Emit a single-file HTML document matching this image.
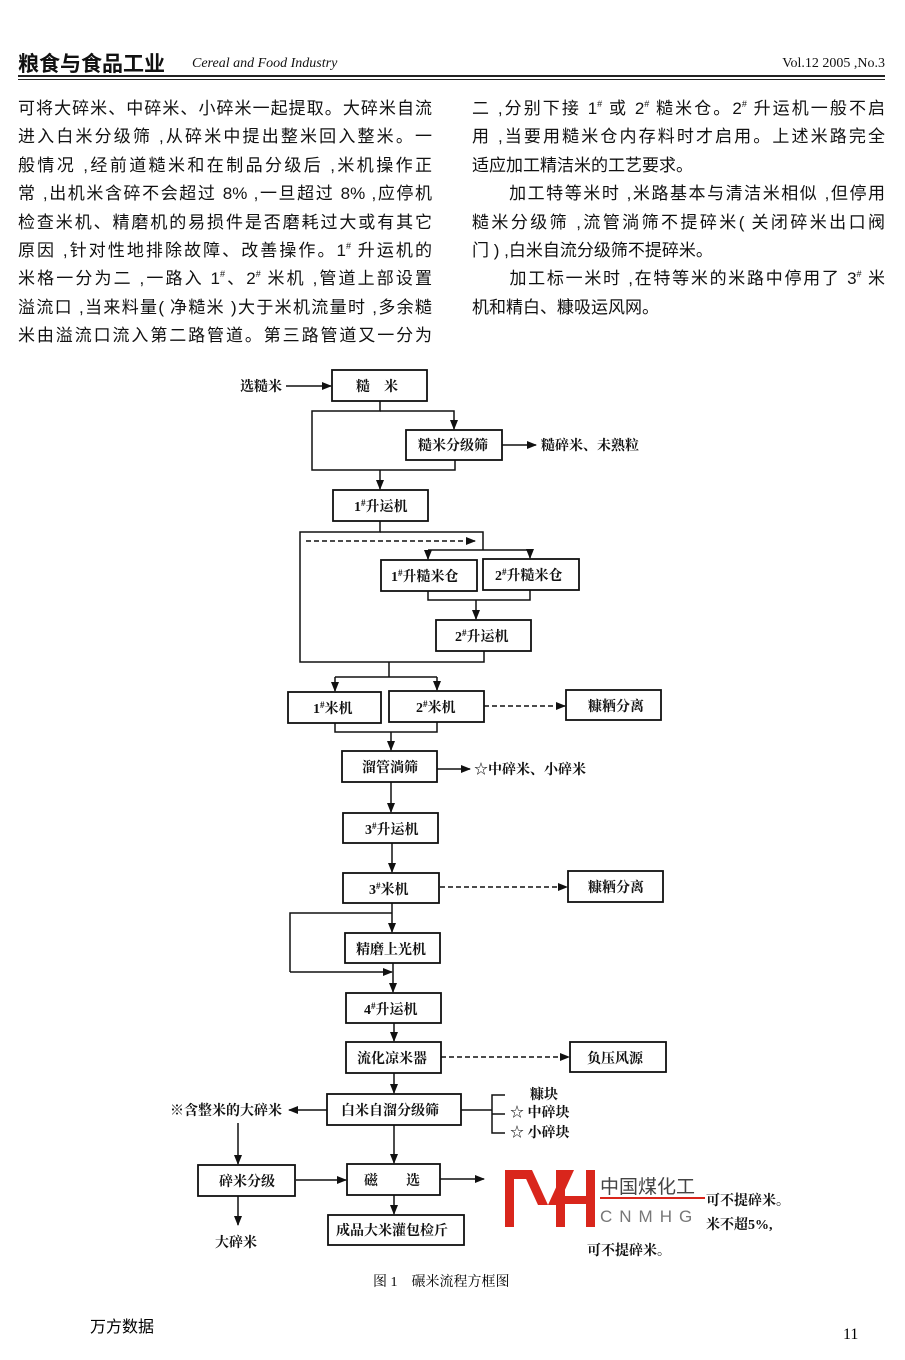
<!DOCTYPE html>
<html><head><meta charset="utf-8">
<style>
body{margin:0;background:#fff;}
#p{position:relative;width:905px;height:1360px;overflow:hidden;background:#fff;color:#111;font-family:"Liberation Sans","Noto Sans CJK SC",sans-serif;}
.col{position:absolute;font-size:17px;line-height:28.4px;}
.col div{text-align:justify;text-align-last:justify;white-space:nowrap;height:28.4px}
.col div.l{text-align-last:left}
sup{font-size:9px;vertical-align:7px;line-height:0}
</style></head><body><div id="p">
<div style="position:absolute;left:18px;top:48px;font-size:21px;font-weight:bold;">粮食与食品工业</div>
<div style="position:absolute;left:192px;top:56px;font-size:14px;font-style:italic;font-family:'Liberation Serif',serif;">Cereal and Food Industry</div>
<div style="position:absolute;right:20px;top:56px;font-size:14px;font-family:'Liberation Serif',serif;">Vol.12 2005 ,No.3</div>
<div style="position:absolute;left:18px;top:75px;width:867px;height:2px;background:#222"></div>
<div style="position:absolute;left:18px;top:78.5px;width:867px;height:1px;background:#222"></div>

<div class="col" style="left:18px;top:95px;width:414px;">
<div>可将大碎米、中碎米、小碎米一起提取。大碎米自流</div>
<div>进入白米分级筛 ,从碎米中提出整米回入整米。一</div>
<div>般情况 ,经前道糙米和在制品分级后 ,米机操作正</div>
<div>常 ,出机米含碎不会超过 8% ,一旦超过 8% ,应停机</div>
<div>检查米机、精磨机的易损件是否磨耗过大或有其它</div>
<div>原因 ,针对性地排除故障、改善操作。1<sup>#</sup> 升运机的</div>
<div>米格一分为二 ,一路入 1<sup>#</sup>、2<sup>#</sup> 米机 ,管道上部设置</div>
<div>溢流口 ,当来料量( 净糙米 )大于米机流量时 ,多余糙</div>
<div>米由溢流口流入第二路管道。第三路管道又一分为</div>
</div>
<div class="col" style="left:472px;top:95px;width:413px;">
<div>二 ,分别下接 1<sup>#</sup> 或 2<sup>#</sup> 糙米仓。2<sup>#</sup> 升运机一般不启</div>
<div>用 ,当要用糙米仓内存料时才启用。上述米路完全</div>
<div class="l">适应加工精洁米的工艺要求。</div>
<div>　　加工特等米时 ,米路基本与清洁米相似 ,但停用</div>
<div>糙米分级筛 ,流管淌筛不提碎米( 关闭碎米出口阀</div>
<div class="l">门 ) ,白米自流分级筛不提碎米。</div>
<div>　　加工标一米时 ,在特等米的米路中停用了 3<sup>#</sup> 米</div>
<div class="l">机和精白、糠吸运风网。</div>
</div>

<svg width="905" height="1360" style="position:absolute;left:0;top:0" font-family="Liberation Serif,Noto Serif CJK SC,serif" font-weight="bold" font-size="14">
<defs><marker id="a" markerWidth="10" markerHeight="8" refX="9" refY="4" orient="auto" markerUnits="userSpaceOnUse"><path d="M0,0L10,4L0,8z" fill="#111"/></marker></defs>
<g fill="none" stroke="#111" stroke-width="1.8">
<rect x="332" y="370" width="95" height="31"/>
<rect x="406" y="430" width="96" height="30"/>
<rect x="333" y="490" width="95" height="31"/>
<rect x="381" y="560" width="96" height="31"/>
<rect x="483" y="559" width="96" height="31"/>
<rect x="436" y="620" width="95" height="31"/>
<rect x="288" y="692" width="93" height="31"/>
<rect x="389" y="691" width="95" height="31"/>
<rect x="566" y="690" width="95" height="30"/>
<rect x="342" y="751" width="95" height="31"/>
<rect x="343" y="813" width="95" height="30"/>
<rect x="343" y="873" width="96" height="30"/>
<rect x="568" y="871" width="95" height="31"/>
<rect x="345" y="933" width="95" height="30"/>
<rect x="346" y="993" width="95" height="30"/>
<rect x="346" y="1042" width="95" height="31"/>
<rect x="570" y="1042" width="96" height="30"/>
<rect x="327" y="1094" width="134" height="31"/>
<rect x="198" y="1165" width="97" height="31"/>
<rect x="347" y="1164" width="93" height="31"/>
<rect x="328" y="1215" width="136" height="30"/>
<g stroke-width="1.5">
<line x1="286" y1="386" x2="331" y2="386" marker-end="url(#a)"/>
<polyline points="380,401 380,411 312,411 312,470 455,470 455,460"/>
<polyline points="380,411 454,411 454,429" marker-end="url(#a)"/>
<line x1="502" y1="445" x2="536" y2="445" marker-end="url(#a)"/>
<line x1="380" y1="470" x2="380" y2="489" marker-end="url(#a)"/>
<polyline points="380,521 380,532 300,532 300,662 484,662 484,651"/>
<polyline points="380,532 483,532 483,550"/>
<line x1="306" y1="541" x2="475" y2="541" stroke-dasharray="5,3" marker-end="url(#a)"/>
<polyline points="428,550 530,550"/>
<line x1="428" y1="550" x2="428" y2="559" marker-end="url(#a)"/>
<line x1="530" y1="550" x2="530" y2="558" marker-end="url(#a)"/>
<polyline points="428,591 428,600 530,600 530,590"/>
<line x1="476" y1="600" x2="476" y2="619" marker-end="url(#a)"/>
<polyline points="389,662 389,677"/>
<polyline points="335,677 437,677"/>
<line x1="335" y1="677" x2="335" y2="691" marker-end="url(#a)"/>
<line x1="437" y1="677" x2="437" y2="690" marker-end="url(#a)"/>
<line x1="484" y1="706" x2="565" y2="706" stroke-dasharray="5,3" marker-end="url(#a)"/>
<polyline points="335,723 335,732 437,732 437,722"/>
<line x1="391" y1="732" x2="391" y2="750" marker-end="url(#a)"/>
<line x1="437" y1="769" x2="470" y2="769" marker-end="url(#a)"/>
<line x1="391" y1="782" x2="391" y2="812" marker-end="url(#a)"/>
<line x1="392" y1="843" x2="392" y2="872" marker-end="url(#a)"/>
<line x1="440" y1="887" x2="567" y2="887" stroke-dasharray="5,3" marker-end="url(#a)"/>
<line x1="392" y1="903" x2="392" y2="932" marker-end="url(#a)"/>
<polyline points="392,913 290,913 290,972"/>
<line x1="290" y1="972" x2="392" y2="972" marker-end="url(#a)"/>
<line x1="393" y1="963" x2="393" y2="992" marker-end="url(#a)"/>
<line x1="394" y1="1023" x2="394" y2="1041" marker-end="url(#a)"/>
<line x1="441" y1="1057" x2="569" y2="1057" stroke-dasharray="5,3" marker-end="url(#a)"/>
<line x1="394" y1="1073" x2="394" y2="1093" marker-end="url(#a)"/>
<line x1="327" y1="1110" x2="289" y2="1110" marker-end="url(#a)"/>
<line x1="461" y1="1110" x2="492" y2="1110"/>
<polyline points="505,1095 492,1095 492,1133 505,1133"/>
<line x1="492" y1="1114" x2="505" y2="1114"/>
<line x1="238" y1="1123" x2="238" y2="1164" marker-end="url(#a)"/>
<line x1="238" y1="1196" x2="238" y2="1225" marker-end="url(#a)"/>
<line x1="296" y1="1180" x2="346" y2="1180" marker-end="url(#a)"/>
<line x1="394" y1="1125" x2="394" y2="1163" marker-end="url(#a)"/>
<line x1="440" y1="1179" x2="484" y2="1179" marker-end="url(#a)"/>
<line x1="394" y1="1195" x2="394" y2="1214" marker-end="url(#a)"/>
</g></g>
<g fill="#111">
<text x="240" y="391">选糙米</text>
<text x="356" y="391">糙　米</text>
<text x="418" y="450">糙米分级筛</text>
<text x="541" y="450">糙碎米、未熟粒</text>
<text x="354" y="511">1<tspan dy="-5" font-size="9">#</tspan><tspan dy="5">升运机</tspan></text>
<text x="391" y="581">1<tspan dy="-5" font-size="9">#</tspan><tspan dy="5">升糙米仓</tspan></text>
<text x="495" y="580">2<tspan dy="-5" font-size="9">#</tspan><tspan dy="5">升糙米仓</tspan></text>
<text x="455" y="641">2<tspan dy="-5" font-size="9">#</tspan><tspan dy="5">升运机</tspan></text>
<text x="313" y="713">1<tspan dy="-5" font-size="9">#</tspan><tspan dy="5">米机</tspan></text>
<text x="416" y="712">2<tspan dy="-5" font-size="9">#</tspan><tspan dy="5">米机</tspan></text>
<text x="588" y="711">糠粞分离</text>
<text x="362" y="772">溜管淌筛</text>
<text x="474" y="774">☆中碎米、小碎米</text>
<text x="365" y="834">3<tspan dy="-5" font-size="9">#</tspan><tspan dy="5">升运机</tspan></text>
<text x="369" y="894">3<tspan dy="-5" font-size="9">#</tspan><tspan dy="5">米机</tspan></text>
<text x="588" y="892">糠粞分离</text>
<text x="356" y="954">精磨上光机</text>
<text x="364" y="1014">4<tspan dy="-5" font-size="9">#</tspan><tspan dy="5">升运机</tspan></text>
<text x="357" y="1063">流化凉米器</text>
<text x="587" y="1063">负压风源</text>
<text x="341" y="1115">白米自溜分级筛</text>
<text x="170" y="1115">※含整米的大碎米</text>
<text x="530" y="1099">糠块</text>
<text x="510" y="1117">☆ 中碎块</text>
<text x="510" y="1137">☆ 小碎块</text>
<text x="219" y="1186">碎米分级</text>
<text x="364" y="1185">磁　　选</text>
<text x="336" y="1235">成品大米灌包检斤</text>
<text x="215" y="1247">大碎米</text>
<text x="706" y="1205">可不提碎米。</text>
<text x="706" y="1229">米不超5%,</text>
<text x="587" y="1255">可不提碎米。</text>
</g>
<g fill="#d9261c">
<rect x="505" y="1170" width="9" height="57"/><rect x="505" y="1170" width="25" height="9"/>
<polygon points="522,1170 532,1170 548,1205 538,1205"/><polygon points="564,1170 574,1170 558,1205 548,1205"/>
<rect x="556" y="1170" width="9" height="57"/><rect x="586" y="1170" width="9" height="57"/><rect x="556" y="1196" width="39" height="8"/>
<rect x="600" y="1197" width="105" height="2"/>
</g>
<text x="600" y="1193" font-weight="normal" font-size="19" fill="#444" font-family="Liberation Sans,Noto Sans CJK SC,sans-serif">中国煤化工</text>
<text x="600" y="1222" font-weight="normal" font-size="17" fill="#777" letter-spacing="7" font-family="Liberation Sans,sans-serif">CNMHG</text>
<text x="373" y="1286" font-weight="normal" font-size="14" font-family="Liberation Serif,Noto Serif CJK SC,serif">图 1　碾米流程方框图</text>
<text x="90" y="1332" font-weight="normal" font-size="16" font-family="Liberation Sans,Noto Sans CJK SC,sans-serif">万方数据</text>
<text x="843" y="1339" font-weight="normal" font-size="16">11</text>
</svg>
</div></body></html>
